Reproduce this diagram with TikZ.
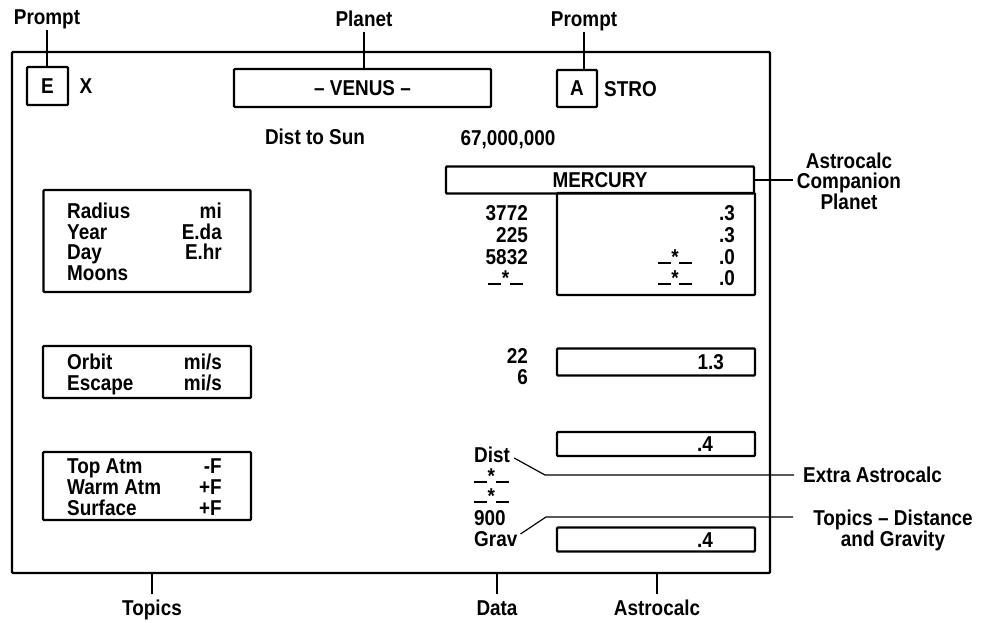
\documentclass[tikz,border=0pt]{standalone}
\usepackage{fontspec}
\setmainfont{Liberation Sans}[FakeStretch=0.88]
\newcommand\starmark{\rule[0.5pt]{13pt}{2pt}\hspace{0.5pt}*\hspace{0.5pt}\rule[0.5pt]{13pt}{2pt}}
\begin{document}
\begin{tikzpicture}[x=1pt,y=-1pt,
  font=\bfseries\fontsize{21.5}{21}\selectfont,
  txt/.style={inner sep=0pt, text height=15.4pt, text depth=0pt},
  box/.style={draw, line width=2.2pt, inner sep=0pt, rounded corners=1pt},
  conn/.style={line width=1.2pt}]
\useasboundingbox (0,0) rectangle (986,622);
% frame
\node[box, minimum width=758pt, minimum height=521pt] (frame) at (391,312.5) {};
% top row
\node[box, minimum width=41pt, minimum height=38pt] (ebox) at (47.5,86) {E};
\node[txt] (x) at (86,86) {X};
\node[box, minimum width=257pt, minimum height=38pt] (venus) at (362.5,88) {-- VENUS --};
\node[box, minimum width=40pt, minimum height=37pt] (abox) at (577,88.5) {A};
\node[txt, anchor=west] (stro) at (604,89) {STRO};
\node[txt] (prompt1) at (47,17) {Prompt};
\node[txt] (planet) at (364,19) {Planet};
\node[txt] (prompt2) at (584,19) {Prompt};
\draw[conn] (prompt1.south) ++(0,5) -- (prompt1.south |- ebox.north);
\draw[conn] (planet.south) ++(0,5) -- (planet.south |- venus.north);
\draw[conn] (prompt2.south) ++(0,5) -- (prompt2.south |- abox.north);
% dist to sun
\node[txt] (dts) at (315,137) {Dist to Sun};
\node[txt] (dtsv) at (508,138) {67,000,000};
% mercury
\node[box, minimum width=308pt, minimum height=27pt] (merc) at (600,180) {MERCURY};
\node[align=center, inner sep=0pt, font=\bfseries\fontsize{21.5}{20.5}\selectfont] (companion) at (849,181) {Astrocalc\\Companion\\Planet};
\draw[conn] (merc.east) -- (793,180);
% left boxes
\node[box, minimum width=207pt, minimum height=102pt] (physbox) at (147,241) {};
\node[txt, anchor=west] (radius) at (67,211) {Radius};
\node[txt, anchor=west] (year) at (67,232) {Year};
\node[txt, anchor=west] (day) at (67,252) {Day};
\node[txt, anchor=west] (moons) at (67,273) {Moons};
\node[txt, anchor=east] (umi) at (222,211) {mi};
\node[txt, anchor=east] (uda) at (222,232) {E.da};
\node[txt, anchor=east] (uhr) at (222,252) {E.hr};
\node[box, minimum width=208pt, minimum height=52pt] (velbox) at (147,372) {};
\node[txt, anchor=west] (orbit) at (67,362) {Orbit};
\node[txt, anchor=west] (escape) at (67,383) {Escape};
\node[txt, anchor=east] (uorb) at (222,362) {mi/s};
\node[txt, anchor=east] (uesc) at (222,383) {mi/s};
\node[box, minimum width=208pt, minimum height=68pt] (tempbox) at (147,486) {};
\node[txt, anchor=west] (topatm) at (67,466) {Top Atm};
\node[txt, anchor=west] (warmatm) at (67,487) {Warm Atm};
\node[txt, anchor=west] (surface) at (67,508) {Surface};
\node[txt, anchor=east] (utop) at (222,466) {-F};
\node[txt, anchor=east] (uwarm) at (222,487) {+F};
\node[txt, anchor=east] (usurf) at (222,508) {+F};
% data column
\node[txt, anchor=east] (d1) at (528,213) {3772};
\node[txt, anchor=east] (d2) at (528,235) {225};
\node[txt, anchor=east] (d3) at (528,257) {5832};
\node[txt, anchor=east] (d4) at (523,278) {\starmark};
\node[txt, anchor=east] (d5) at (528,356) {22};
\node[txt, anchor=east] (d6) at (528,377) {6};
\node[txt, anchor=west] (dist) at (474,455) {Dist};
\node[txt, anchor=west] (s1) at (474,476) {\starmark};
\node[txt, anchor=west] (s2) at (474,496) {\starmark};
\node[txt, anchor=west] (n900) at (474,518) {900};
\node[txt, anchor=west] (grav) at (474,539) {Grav};
% astrocalc column
\node[box, minimum width=198pt, minimum height=102pt] (acbox) at (656,244) {};
\node[txt, anchor=east] (a1) at (735,213) {.3};
\node[txt, anchor=east] (a2) at (735,235) {.3};
\node[txt, anchor=east] (a3) at (735,257) {.0};
\node[txt, anchor=east] (a4) at (735,278) {.0};
\node[txt] (a3s) at (675,257) {\starmark};
\node[txt] (a4s) at (675,278) {\starmark};
\node[box, minimum width=198pt, minimum height=27pt] (orbbox) at (656,362) {};
\node[txt, anchor=east] (orbv) at (724,362) {1.3};
\node[box, minimum width=198pt, minimum height=24pt] (distbox) at (656,444) {};
\node[txt, anchor=east] (distv) at (713,444) {.4};
\node[box, minimum width=198pt, minimum height=24pt] (gravbox) at (656,539.5) {};
\node[txt, anchor=east] (gravv) at (713,539.5) {.4};
% extra labels
\node[txt, anchor=west] (extra) at (803,475) {Extra Astrocalc};
\coordinate (ex1) at (545,475);
\draw[conn] (dist.east) ++(4,3) -- (ex1) -- ([xshift=-9pt]extra.west);
\node[align=center, inner sep=0pt, font=\bfseries\fontsize{21.5}{21}\selectfont] (topicsdg) at (893,530) {Topics -- Distance\\and Gravity};
\coordinate (tp1) at (546,517);
\draw[conn] (grav.east) ++(3,-5) -- (tp1) -- (793,517);
% bottom labels
\node[txt] (topics) at (152,608) {Topics};
\node[txt] (data) at (497,608) {Data};
\node[txt] (astro) at (657,608) {Astrocalc};
\draw[conn] (topics.north) ++(0,-6) -- (topics.north |- frame.south);
\draw[conn] (data.north) ++(0,-6) -- (data.north |- frame.south);
\draw[conn] (astro.north) ++(0,-6) -- (astro.north |- frame.south);
\end{tikzpicture}
\end{document}
